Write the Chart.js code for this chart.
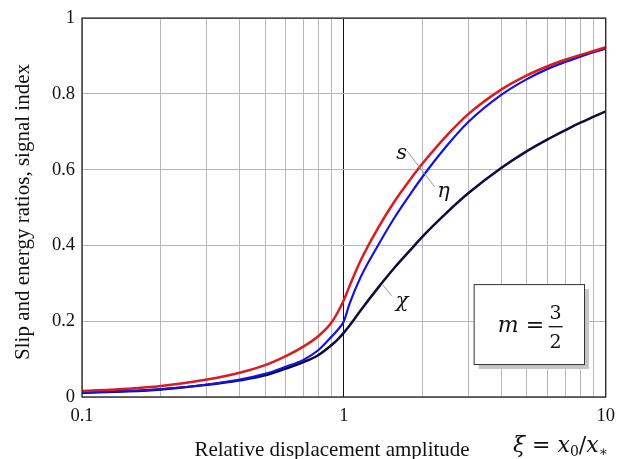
<!DOCTYPE html>
<html>
<head>
<meta charset="utf-8">
<script src="https://cdn.jsdelivr.net/npm/chart.js@4"></script>
<style>
  html, body { margin: 0; padding: 0; background: #fff; }
  #wrap { width: 623px; height: 459px; }
</style>
</head>
<body>
<div id="wrap"><canvas id="grafico"></canvas></div>
<script>
// relative displacement amplitude xi = x0/x*
const xi = [0.1, 0.15, 0.2, 0.3, 0.4, 0.5, 0.6, 0.7, 0.8, 0.9, 0.95, 1, 1.05, 1.16, 1.35, 1.56, 1.8, 2, 2.5, 3, 4, 5, 6, 7, 8, 9, 10];
// slip ratio s
const slip = [0.016, 0.022, 0.029, 0.046, 0.064, 0.084, 0.108, 0.133, 0.161, 0.198, 0.225, 0.256, 0.292, 0.361, 0.446, 0.516, 0.576, 0.617, 0.694, 0.748, 0.812, 0.849, 0.873, 0.890, 0.903, 0.913, 0.923];
// energy ratio eta
const eta = [0.012, 0.016, 0.021, 0.033, 0.046, 0.061, 0.080, 0.098, 0.124, 0.160, 0.178, 0.200, 0.245, 0.317, 0.400, 0.473, 0.537, 0.582, 0.667, 0.727, 0.798, 0.839, 0.866, 0.884, 0.898, 0.910, 0.919];
// signal index chi
const chi = [0.011, 0.015, 0.020, 0.032, 0.044, 0.057, 0.075, 0.092, 0.111, 0.138, 0.153, 0.170, 0.188, 0.229, 0.288, 0.341, 0.389, 0.424, 0.490, 0.539, 0.605, 0.649, 0.680, 0.704, 0.724, 0.740, 0.754];

const xGrid = [0.1, 0.2, 0.3, 0.4, 0.5, 0.6, 0.7, 0.8, 0.9, 1, 2, 3, 4, 5, 6, 7, 8, 9, 10];
const xLabels = [0.1, 1, 10];
const yTicks = [0, 0.2, 0.4, 0.6, 0.8, 1];

const serif = "'Liberation Serif', 'Times New Roman', serif";
const math = "'DejaVu Serif', serif";

function pontos(ys) {
    return xi.map((x, i) => ({ x: x, y: ys[i] }));
}

const decoracao = {
    id: 'decoracao',
    afterDraw(chart) {
        const ctx = chart.ctx;
        const a = chart.chartArea;
        const x = chart.scales.x;
        const y = chart.scales.y;
        ctx.save();

        // frame
        ctx.strokeStyle = '#222';
        ctx.lineWidth = 1.3;
        ctx.strokeRect(a.left, a.top, a.right - a.left, a.bottom - a.top);

        // leader lines
        ctx.strokeStyle = '#999';
        ctx.lineWidth = 1;
        ctx.beginPath();
        ctx.moveTo(x.getPixelForValue(1.74), y.getPixelForValue(0.65));
        ctx.lineTo(x.getPixelForValue(2.22), y.getPixelForValue(0.555));
        ctx.moveTo(x.getPixelForValue(1.41), y.getPixelForValue(0.296));
        ctx.lineTo(x.getPixelForValue(1.52), y.getPixelForValue(0.267));
        ctx.stroke();

        // curve names
        ctx.fillStyle = '#111';
        ctx.font = 'italic 21px ' + math;
        ctx.textAlign = 'center';
        ctx.textBaseline = 'alphabetic';
        ctx.fillText('s', x.getPixelForValue(1.66), y.getPixelForValue(0.628));
        ctx.fillText('η', x.getPixelForValue(2.4), y.getPixelForValue(0.528));
        ctx.fillText('χ', x.getPixelForValue(1.67), y.getPixelForValue(0.237));

        // m = 3/2 box
        const bx0 = x.getPixelForValue(3.13), bx1 = x.getPixelForValue(8.26);
        const by0 = y.getPixelForValue(0.298), by1 = y.getPixelForValue(0.087);
        ctx.fillStyle = '#c6c6c6';
        ctx.fillRect(bx0 + 5, by0 + 5, bx1 - bx0, by1 - by0);
        ctx.fillStyle = '#fff';
        ctx.fillRect(bx0, by0, bx1 - bx0, by1 - by0);
        ctx.strokeStyle = '#333';
        ctx.lineWidth = 1;
        ctx.strokeRect(bx0 + 0.5, by0 + 0.5, bx1 - bx0, by1 - by0);

        const cy = (by0 + by1) / 2;
        ctx.fillStyle = '#111';
        ctx.textAlign = 'left';
        ctx.textBaseline = 'alphabetic';
        ctx.font = 'italic 22px ' + math;
        ctx.fillText('m', bx0 + 24, cy + 8);
        ctx.font = '22px ' + math;
        ctx.fillText('=', bx0 + 52, cy + 8);
        ctx.font = '19px ' + math;
        ctx.textAlign = 'center';
        const fx = bx0 + 82;
        ctx.fillText('3', fx, cy - 5);
        ctx.fillText('2', fx, cy + 24);
        ctx.fillRect(fx - 7, cy + 2, 14, 1.3);

        // axis titles
        ctx.font = '21px ' + serif;
        ctx.textAlign = 'center';
        ctx.fillText('Relative displacement amplitude', 332, 456);

        let px = 513;
        const by = 452;
        ctx.textAlign = 'left';
        const parte = (txt, fonte, dy) => {
            ctx.font = fonte;
            ctx.fillText(txt, px, by + (dy || 0));
            px += ctx.measureText(txt).width;
        };
        parte('ξ', 'italic 22px ' + math);
        parte(' = ', '22px ' + math);
        parte('x', 'italic 22px ' + math);
        parte('0', '14px ' + math, 4);
        parte('/', '22px ' + math);
        parte('x', 'italic 22px ' + math);
        parte('∗', '14px ' + math, 4);

        ctx.save();
        ctx.translate(29, 212);
        ctx.rotate(-Math.PI / 2);
        ctx.font = '21px ' + serif;
        ctx.textAlign = 'center';
        ctx.fillText('Slip and energy ratios, signal index', 0, 0);
        ctx.restore();

        ctx.restore();
    }
};

new Chart(document.getElementById('grafico'), {
    type: 'line',
    data: {
        datasets: [
            { label: 's', data: pontos(slip), borderColor: '#dd1a1e', borderWidth: 2.5 },
            { label: 'η', data: pontos(eta), borderColor: '#1414e0', borderWidth: 2.2 },
            { label: 'χ', data: pontos(chi), borderColor: '#0c0c3e', borderWidth: 2.5 }
        ]
    },
    options: {
        responsive: true,
        maintainAspectRatio: false,
        animation: false,
        events: [],
        layout: { padding: { left: 0, right: 13, top: 18, bottom: 0 } },
        elements: {
            point: { radius: 0 },
            line: { cubicInterpolationMode: 'monotone', fill: false }
        },
        plugins: {
            legend: { display: false },
            tooltip: { enabled: false }
        },
        scales: {
            x: {
                type: 'logarithmic',
                min: 0.1,
                max: 10,
                afterBuildTicks: (scale) => {
                    scale.ticks = xGrid.map(v => ({ value: v }));
                },
                afterFit: (scale) => { scale.height = 62; },
                ticks: {
                    autoSkip: false,
                    maxRotation: 0,
                    padding: 8,
                    color: '#111',
                    font: { family: serif, size: 18.5 },
                    callback: (v) => xLabels.includes(v) ? String(v) : ''
                },
                grid: {
                    drawTicks: false,
                    color: (c) => c.tick && c.tick.value === 1 ? '#111' : '#b8b8b8',
                    lineWidth: 1
                },
                border: { display: false }
            },
            y: {
                min: 0,
                max: 1,
                afterBuildTicks: (scale) => {
                    scale.ticks = yTicks.map(v => ({ value: v }));
                },
                afterFit: (scale) => { scale.width = 82; },
                ticks: {
                    padding: 7,
                    color: '#111',
                    font: { family: serif, size: 18.5 },
                    callback: (v) => String(Math.round(v * 10) / 10)
                },
                grid: {
                    drawTicks: false,
                    color: '#b8b8b8',
                    lineWidth: 1
                },
                border: { display: false }
            }
        }
    },
    plugins: [decoracao]
});
</script>
</body>
</html>
